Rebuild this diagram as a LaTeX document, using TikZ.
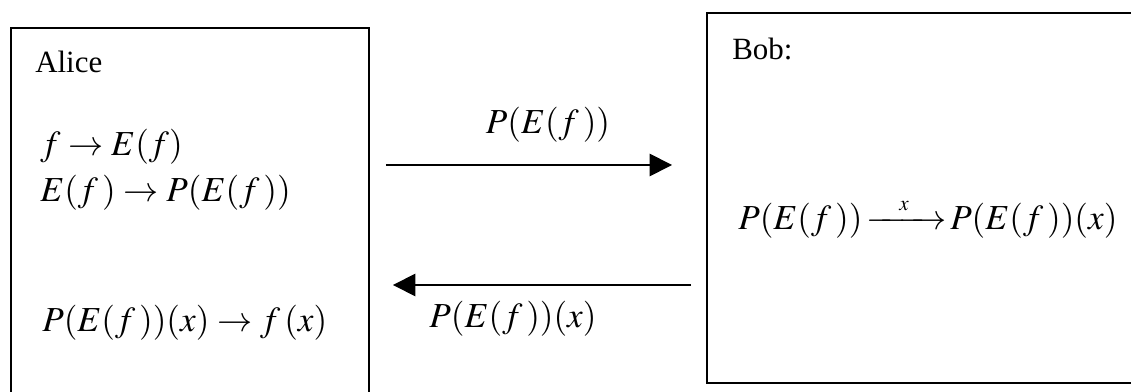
\documentclass[tikz,border=0pt]{standalone}
\usepackage{amsmath}
\usepackage{mathptmx}
\usepackage{fontspec}
\setmainfont{Liberation Serif}
\usepackage{tikz}
\usetikzlibrary{arrows.meta,positioning}

\begin{document}
\begin{tikzpicture}[x=0.025cm,y=-0.025cm,
  font=\fontsize{22}{26}\selectfont,
  boite/.style={rectangle,draw=black,line width=1.3pt,inner sep=0pt},
  texte/.style={anchor=base west,inner sep=0pt},
  formule/.style={texte,font=\fontsize{25}{30}\selectfont},
  etiquette/.style={anchor=base,inner sep=0pt,font=\fontsize{25}{30}\selectfont},
  fleche/.style={-{Triangle[length=16pt,width=16pt]},line width=1.2pt}]
  \useasboundingbox (0,0) rectangle (1131,392);
  \clip (0,0) rectangle (1131,392);

  % les deux cadres
  \node[boite,minimum width=8.95cm,minimum height=10.05cm] (alice) at (190,229) {};
  \node[boite,minimum width=11.325cm,minimum height=9.25cm] (bob) at (933.5,198) {};

  % cote Alice
  \node[texte] (nomA) at (35,73) {Alice};
  \node[formule] (ligneA1) at (40,156) {$f \rightarrow E(f)$};
  \node[formule] (ligneA2) at (40,202) {$E(f\,) \rightarrow P(E(f\,))$};
  \node[formule] (ligneA3) at (42,332) {$P(E(f\,))(x) \rightarrow f\,(x)$};

  % cote Bob
  \node[texte] (nomB) at (732,60) {Bob:};
  \node[formule] (ligneB) at (738,230)
    {$P(E(f\,))\!\xrightarrow{\makebox[1.7em]{$\scriptscriptstyle x$}}\!P(E(f\,))(x)$};

  % echanges
  \draw[fleche,shorten <=0.4cm,shorten >=0.85cm] (alice.east |- 0,165) -- (bob.west |- 0,165);
  \draw[fleche,shorten <=0.375cm,shorten >=0.575cm] (bob.west |- 0,285) -- (alice.east |- 0,285);
  \node[etiquette] (envoi) at (548,134) {$P(E(f\,))$};
  \node[etiquette] (retour) at (513,328) {$P(E(f\,))(x)$};
\end{tikzpicture}
\end{document}
